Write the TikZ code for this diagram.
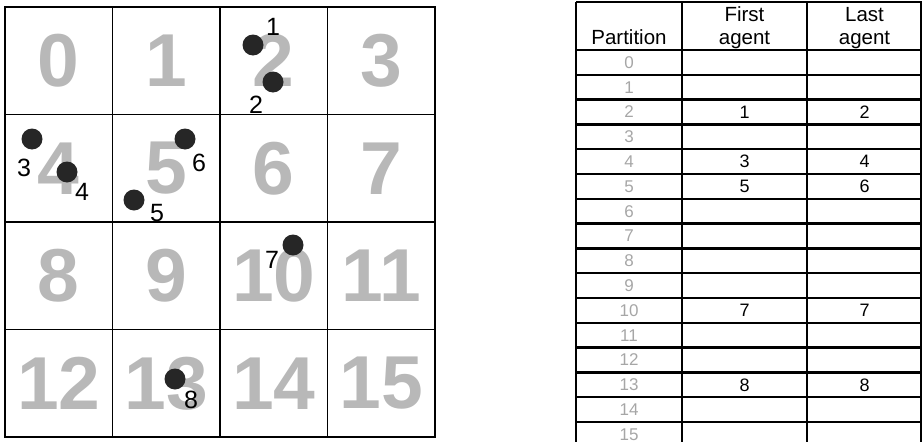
\documentclass[tikz,border=0pt]{standalone}
\usepackage{fontspec}
\setmainfont{Liberation Sans}
\begin{document}
\begin{tikzpicture}[x=1pt, y=-1pt]
        \tikzstyle{cell}=[draw, line width=1.8pt, minimum width=107.5pt, minimum height=107.5pt, inner sep=0pt, text=black!28, font=\fontsize{75}{75}\selectfont\bfseries]
        \tikzstyle{agent}=[circle, fill=black!85, minimum size=21pt, inner sep=0pt]
        \tikzstyle{tag}=[inner sep=0pt, font=\fontsize{25}{25}\selectfont]
        \tikzstyle{part}=[inner sep=0pt, text=black!35, font=\fontsize{17}{17}\selectfont]
        \tikzstyle{entry}=[inner sep=0pt, font=\fontsize{18}{18}\selectfont]
        \tikzstyle{head}=[inner sep=0pt, align=center, font=\fontsize{20.5}{23}\selectfont]
        \useasboundingbox (0,0) rectangle (922,442);

        % Rejilla de particiones
        \node[cell] (c0) at (58.75,60.75) {0}; \node[cell] (c1) at (166.25,60.75) {1}; \node[cell] (c2) at (273.75,60.75) {2}; \node[cell] (c3) at (381.25,60.75) {3};
        \node[cell] (c4) at (58.75,168.25) {4}; \node[cell] (c5) at (166.25,168.25) {5}; \node[cell] (c6) at (273.75,168.25) {6}; \node[cell] (c7) at (381.25,168.25) {7};
        \node[cell] (c8) at (58.75,275.75) {8}; \node[cell] (c9) at (166.25,275.75) {9}; \node[cell] (c10) at (273.75,275.75) {10}; \node[cell] (c11) at (381.25,275.75) {11};
        \node[cell] (c12) at (58.75,383.25) {12}; \node[cell] (c13) at (166.25,383.25) {13}; \node[cell] (c14) at (273.75,383.25) {14}; \node[cell] (c15) at (381.25,383.25) {15};

        % Agentes
        \node[agent] (a1) at (253,45) {}; \node[tag] (t1) at (273,27) {1};
        \node[agent] (a2) at (273,82) {}; \node[tag] (t2) at (256,105) {2};
        \node[agent] (a3) at (32,139) {}; \node[tag] (t3) at (24,168) {3};
        \node[agent] (a4) at (67,172) {}; \node[tag] (t4) at (82,192) {4};
        \node[agent] (a5) at (134,200) {}; \node[tag] (t5) at (157,213) {5};
        \node[agent] (a6) at (185,139) {}; \node[tag] (t6) at (199,163) {6};
        \node[agent] (a7) at (293,245) {}; \node[tag] (t7) at (272,260) {7};
        \node[agent] (a8) at (175,379) {}; \node[tag] (t8) at (191,400) {8};

        % Tabla
        \draw[line width=2.5pt] (576,2) -- (922,2) (576,50) -- (922,50)
            (576,74.8) -- (922,74.8) (576,99.6) -- (922,99.6) (576,124.4) -- (922,124.4) (576,149.2) -- (922,149.2)
            (576,174) -- (922,174) (576,198.8) -- (922,198.8) (576,223.6) -- (922,223.6) (576,248.4) -- (922,248.4)
            (576,273.2) -- (922,273.2) (576,298) -- (922,298) (576,322.8) -- (922,322.8) (576,347.6) -- (922,347.6)
            (576,372.4) -- (922,372.4) (576,397.2) -- (922,397.2) (576,422) -- (922,422);
        \draw[line width=2.5pt] (576,2) -- (576,442) (682,2) -- (682,442) (807,2) -- (807,442) (921,2) -- (921,442);

        \node[head, anchor=base] (hp) at (629,44) {Partition};
        \node[head, anchor=base] (hf) at (744.5,44) {First\\agent};
        \node[head, anchor=base] (hl) at (864.5,44) {Last\\agent};

        \node[part] (p0) at (629,62.4) {0}; \node[part] (p1) at (629,87.2) {1}; \node[part] (p2) at (629,112) {2}; \node[part] (p3) at (629,136.8) {3};
        \node[part] (p4) at (629,161.6) {4}; \node[part] (p5) at (629,186.4) {5}; \node[part] (p6) at (629,211.2) {6}; \node[part] (p7) at (629,236) {7};
        \node[part] (p8) at (629,260.8) {8}; \node[part] (p9) at (629,285.6) {9}; \node[part] (p10) at (629,310.4) {10}; \node[part] (p11) at (629,335.2) {11};
        \node[part] (p12) at (629,360) {12}; \node[part] (p13) at (629,384.8) {13}; \node[part] (p14) at (629,409.6) {14}; \node[part] (p15) at (629,434.4) {15};

        \node[entry] (f2) at (744.5,112) {1}; \node[entry] (l2) at (864.5,112) {2};
        \node[entry] (f4) at (744.5,161.6) {3}; \node[entry] (l4) at (864.5,161.6) {4};
        \node[entry] (f5) at (744.5,186.4) {5}; \node[entry] (l5) at (864.5,186.4) {6};
        \node[entry] (f10) at (744.5,310.4) {7}; \node[entry] (l10) at (864.5,310.4) {7};
        \node[entry] (f13) at (744.5,384.8) {8}; \node[entry] (l13) at (864.5,384.8) {8};
    \end{tikzpicture}
\end{document}
